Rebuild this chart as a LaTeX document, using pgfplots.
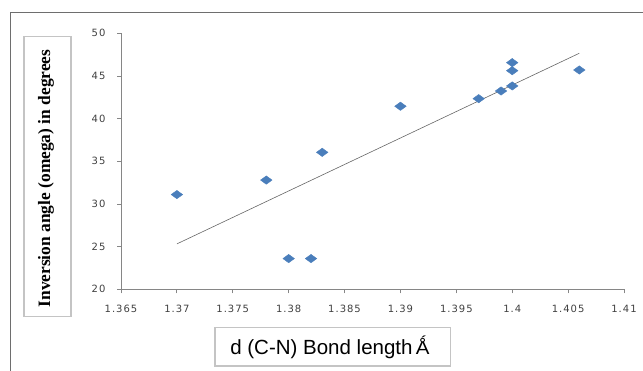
\documentclass[border=0pt]{standalone}
\usepackage{pgfplots}
\pgfplotsset{compat=1.18}
\usepackage{fontspec}
\setmainfont{DejaVu Sans}
\newfontfamily\serifb{Liberation Serif}
\newfontfamily\arial{Liberation Sans}
\newfontfamily\ticks[LetterSpace=10]{DejaVu Sans}
\definecolor{mkblue}{HTML}{4A7EBB}
\definecolor{axgray}{HTML}{868686}
\definecolor{framegray}{HTML}{6E6E6E}
\definecolor{boxgray}{HTML}{C4C4C4}
\definecolor{ticktext}{HTML}{404040}
\begin{document}
\begin{tikzpicture}
\path[use as bounding box] (0pt,0pt) rectangle (643pt,-371pt);
% outer chart frame (cropped at right and bottom)
\draw[framegray, line width=1.2pt] (10.3pt,-380pt) -- (10.3pt,-12.7pt) -- (660pt,-12.7pt);
\begin{axis}[
  at={(121pt,-289.3pt)}, anchor=south west,
  scale only axis, width=503pt, height=256pt,
  xmin=1.365, xmax=1.41, ymin=20, ymax=50,
  xtick={1.365,1.37,...,1.41},
  ytick={20,25,...,50},
  xticklabels={1.365,1.37,1.375,1.38,1.385,1.39,1.395,1.4,1.405,1.41},
  axis lines*=left,
  axis line style={axgray, line width=0.8pt},
  tick style={axgray, line width=0.8pt},
  tick align=outside,
  major tick length=4pt,
  tick label style={font=\ticks\fontsize{10}{12}\selectfont, text=ticktext},
  xticklabel style={yshift=-8pt},
  yticklabel style={xshift=-8pt},
  /pgf/number format/assume math mode=true,
  clip=false,
]
\addplot[black!60, line width=0.6pt] coordinates {(1.37,25.32) (1.406,47.66)};
\addplot[only marks, mark=diamond*, mark size=4.4pt,
  mark options={fill=mkblue, draw=mkblue, xscale=1.75, yscale=0.95}] coordinates {
(1.370,31.10)
(1.378,32.80)
(1.383,36.05)
(1.380,23.60)
(1.382,23.60)
(1.390,41.45)
(1.397,42.34)
(1.399,43.24)
(1.400,43.83)
(1.400,45.62)
(1.400,46.56)
(1.406,45.70)
};
\end{axis}
% y label box
\draw[boxgray, line width=1.5pt] (24pt,-36.7pt) rectangle (71pt,-316.7pt);
\node[rotate=90, font=\serifb\bfseries\fontsize{17.4}{19}\selectfont] at (46pt,-178.5pt) {Inversion angle (omega) in degrees};
% x label box
\draw[boxgray, line width=1.5pt] (215pt,-327.5pt) rectangle (450.5pt,-366pt);
\node[font=\arial\fontsize{20.5}{22}\selectfont] at (330pt,-347.5pt) {d (C-N) Bond length\,Ǻ};
\end{tikzpicture}
\end{document}
